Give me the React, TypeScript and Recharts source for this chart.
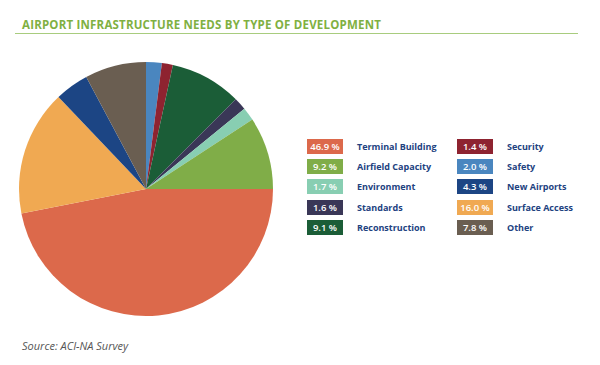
import { PieChart, Pie, Cell, Legend } from 'recharts';

const categories = [
  'Safety',
  'Security',
  'Reconstruction',
  'Standards',
  'Environment',
  'Airfield Capacity',
  'Terminal Building',
  'Surface Access',
  'New Airports',
  'Other',
];
const shares = [2.0, 1.4, 9.1, 1.6, 1.7, 9.2, 46.9, 16.0, 4.3, 7.8];
const colors = ['#4a86bf', '#8e2330', '#1b5d37', '#3a3757', '#88ceb2', '#80ad48', '#dc694b', '#f0a952', '#1c4584', '#6a5e51'];

// legend order as printed in the figure, two columns
const legendLeft = ['Terminal Building', 'Airfield Capacity', 'Environment', 'Standards', 'Reconstruction'];
const legendRight = ['Security', 'Safety', 'New Airports', 'Surface Access', 'Other'];

const data = categories.map((name, i) => ({ name, value: shares[i] }));

const FONT = "'Open Sans', 'DejaVu Sans', sans-serif";

const LegendColumn = ({ names, left }: { names: string[]; left: number }) => (
  <div style={{ position: 'absolute', left, top: 0 }}>
    {names.map((name) => {
      const i = categories.indexOf(name);
      return (
        <div key={name} style={{ display: 'flex', alignItems: 'center', height: 20.2 }}>
          <div
            style={{
              width: 36,
              height: 15,
              background: colors[i],
              color: '#fff',
              fontSize: 9.5,
              fontWeight: 600,
              lineHeight: '15px',
              textAlign: 'center',
              fontFamily: FONT,
            }}
          >
            {shares[i].toFixed(1)} %
          </div>
          <div style={{ marginLeft: 14, color: '#22427f', fontSize: 9, fontWeight: 700, fontFamily: FONT }}>{name}</div>
        </div>
      );
    })}
  </div>
);

const renderLegend = () => (
  <div style={{ position: 'relative', width: 290, height: 105 }}>
    <LegendColumn names={legendLeft} left={0} />
    <LegendColumn names={legendRight} left={150} />
  </div>
);

export default function App() {
  return (
    <div style={{ position: 'relative', width: 600, height: 365, margin: -8, background: '#fff', fontFamily: FONT }}>
      <div
        style={{
          position: 'absolute',
          left: 22,
          top: 17,
          color: '#7fb042',
          fontWeight: 700,
          fontSize: 11.5,
          letterSpacing: 0.2,
        }}
      >
        AIRPORT INFRASTRUCTURE NEEDS BY TYPE OF DEVELOPMENT
      </div>
      <div style={{ position: 'absolute', left: 15, top: 33, width: 563, height: 1, background: '#a8cc7e' }} />
      <div style={{ position: 'absolute', left: 0, top: 0 }}>
        <PieChart width={600} height={365} margin={{ top: 0, right: 0, bottom: 0, left: 0 }}>
          <Pie
            data={data}
            dataKey="value"
            nameKey="name"
            cx={146}
            cy={189}
            outerRadius={127}
            startAngle={90}
            endAngle={-270}
            stroke="none"
            isAnimationActive={false}
          >
            {data.map((d, i) => (
              <Cell key={d.name} fill={colors[i]} />
            ))}
          </Pie>
          <Legend
            content={renderLegend}
            layout="vertical"
            wrapperStyle={{ position: 'absolute', left: 307, top: 136.5, width: 290 }}
          />
        </PieChart>
      </div>
      <div
        style={{
          position: 'absolute',
          left: 22,
          top: 338,
          color: '#555',
          fontSize: 11,
          fontStyle: 'italic',
        }}
      >
        Source: ACI-NA Survey
      </div>
    </div>
  );
}
